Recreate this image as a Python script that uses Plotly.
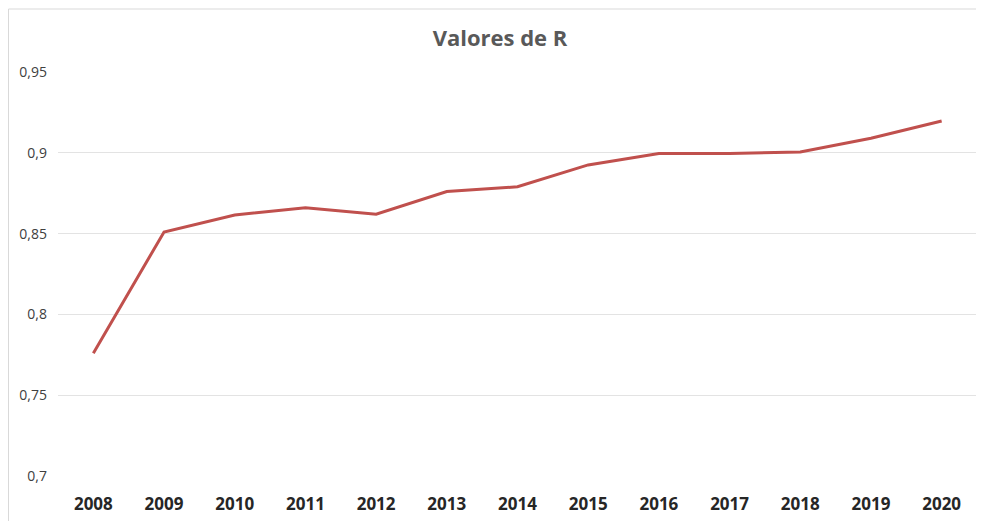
import plotly.graph_objects as go

years = ["2008", "2009", "2010", "2011", "2012", "2013", "2014",
         "2015", "2016", "2017", "2018", "2019", "2020"]
r_values = [0.776, 0.851, 0.8615, 0.866, 0.862, 0.876, 0.879,
            0.8925, 0.8995, 0.8995, 0.9005, 0.909, 0.9197]
y_ticks = [0.7, 0.75, 0.8, 0.85, 0.9, 0.95]

# page body has an 8px margin, so the figure is sized and offset accordingly
W, H = 976, 513
L, R, T, B = 50, 7, 64, 45
pw, ph = W - L - R, H - T - B

fig = go.Figure()
fig.add_trace(go.Scatter(
    x=years, y=r_values, mode="lines",
    line=dict(color="#C0504D", width=3),
    hoverinfo="x+y",
))

fig.update_layout(
    width=W, height=H,
    margin=dict(l=L, r=R, t=T, b=B),
    paper_bgcolor="white", plot_bgcolor="white",
    separators=",.",
    showlegend=False,
    title=dict(text="<b>Valores de R</b>", x=(500 - 8) / W, xanchor="center",
               y=1 - 30 / H, yanchor="middle",
               font=dict(family="Open Sans, Liberation Sans, sans-serif", size=22, color="#595959")),
    font=dict(family="Open Sans, Liberation Sans, sans-serif"),
)
fig.update_xaxes(
    type="category", range=[-0.5, len(years) - 0.5],
    showgrid=False, showline=False, zeroline=False,
    ticks="", ticklabelstandoff=16,
    tickfont=dict(family="Open Sans, Liberation Sans, sans-serif", size=17, color="#262626", weight="bold"),
)
fig.update_yaxes(
    range=[0.7, 0.95], tickvals=y_ticks, showgrid=True, gridcolor="#E3E3E3", gridwidth=1,
    zeroline=False, showline=False, ticks="", ticklabelstandoff=10,
    tickfont=dict(family="Open Sans, Liberation Sans, sans-serif", size=14, color="#404040"),
)
fig.add_shape(type="rect", xref="paper", yref="paper",
              x0=(0.5 - L) / pw, x1=(W + 20 - L) / pw,
              y0=-(B + 20) / ph, y1=(ph + T - 1) / ph,
              line=dict(color="#D9D9D9", width=1), fillcolor="rgba(0,0,0,0)", layer="below")

fig.write_html("out.html")
